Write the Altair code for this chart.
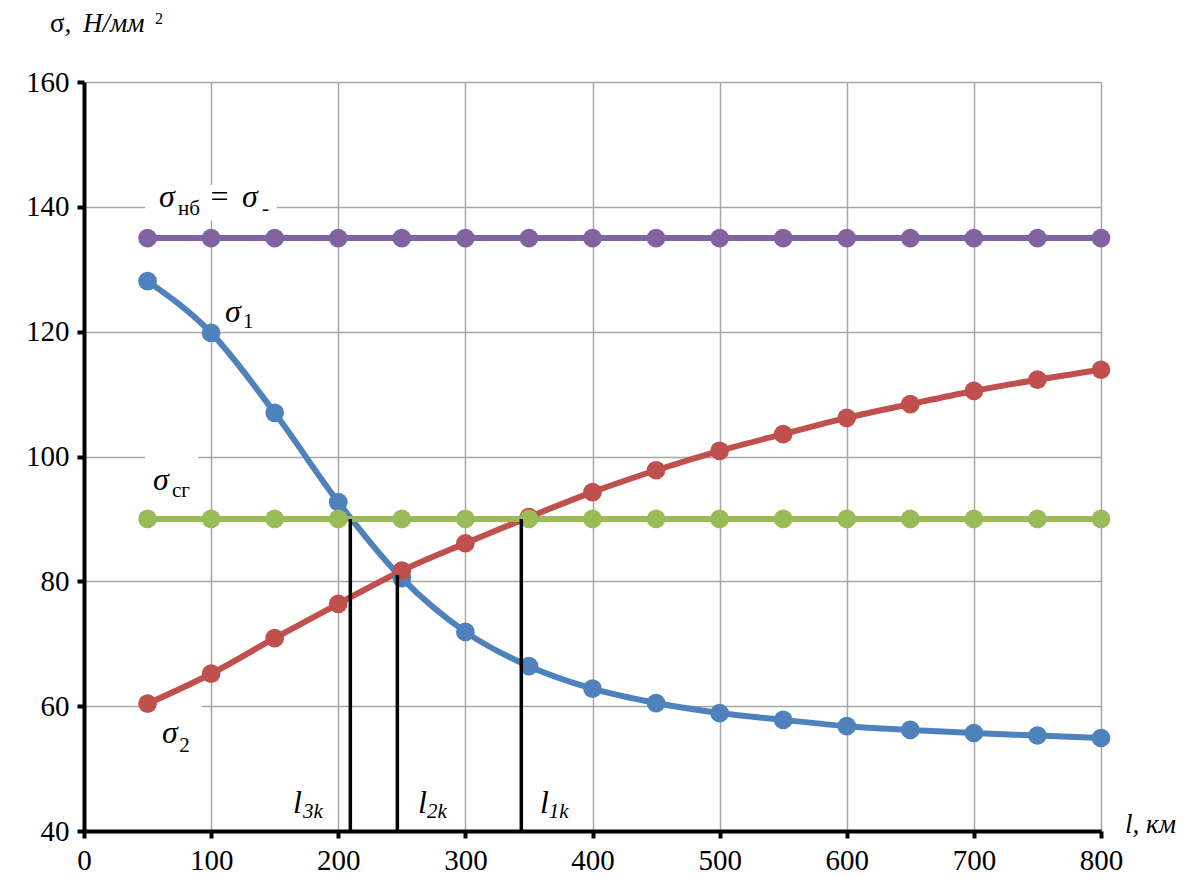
import altair as alt
import pandas as pd

# ---- data ----
L = [50, 100, 150, 200, 250, 300, 350, 400, 450, 500, 550, 600, 650, 700, 750, 800]
sigma1 = [128.1, 119.8, 107.0, 92.7, 80.5, 71.9, 66.4, 62.8, 60.5, 58.9, 57.8, 56.8, 56.2, 55.7, 55.3, 54.9]
sigma2 = [60.4, 65.2, 70.9, 76.4, 81.7, 86.1, 90.3, 94.3, 97.8, 100.9, 103.6, 106.2, 108.4, 110.5, 112.3, 113.9]
sigma_nb = [135, 135, 135, 135, 135, 135, 135, 135, 135, 135, 135, 135, 135, 135, 135, 135]
sigma_sg = [90, 90, 90, 90, 90, 90, 90, 90, 90, 90, 90, 90, 90, 90, 90, 90]

series_names = ["sigma_nb", "sigma1", "sigma2", "sigma_sg"]
series_colors = ["#8064A2", "#4F81BD", "#C0504D", "#9BBB59"]

# critical lengths (vertical markers)
crit_x = [209.5, 246.5, 344.0]
crit_top = [90.0, 81.0, 90.0]

x_ticks = [0, 100, 200, 300, 400, 500, 600, 700, 800]
y_ticks = [40, 60, 80, 100, 120, 140, 160]

# annotation pieces: text, x, y, size, italic
ann_text = ["σ", "нб", "=", "σ", "-",
            "σ", "1",
            "σ", "сг",
            "σ", "2",
            "l", "3k", "l", "2k", "l", "1k",
            "l, км",
            "σ,", "Н/мм", "2"]
ann_x = [59.0, 73.9, 99.5, 124.3, 140.0,
         110.9, 125.0,
         54.3, 69.2,
         61.4, 75.0,
         164.4, 172.3, 262.7, 269.8, 358.7, 365.5,
         818.9,
         -26.7, -0.8, 55.8]
ann_y = [140.0, 138.7, 140.0, 140.0, 138.7,
         121.5, 120.6,
         94.6, 93.5,
         54.1, 52.7,
         42.9, 42.1, 42.9, 42.1, 42.9, 42.1,
         39.7,
         168.0, 168.0, 169.3]
ann_size = [32, 21, 32, 32, 21,
            32, 21,
            32, 21,
            32, 21,
            32, 21, 32, 21, 32, 21,
            27,
            27, 27, 16]
ann_style = ["italic", "normal", "normal", "italic", "normal",
             "italic", "normal",
             "italic", "normal",
             "italic", "normal",
             "italic", "italic", "italic", "italic", "italic", "italic",
             "italic",
             "normal", "italic", "normal"]

# white boxes behind labels (hide gridlines)
box_x = [48.0, 48.0, 53.5]
box_x2 = [151.8, 89.7, 92.8]
box_y = [143.5, 101.0, 61.0]
box_y2 = [137.8, 92.5, 51.5]

# ---- tables ----
rows = []
for name, vals in zip(series_names, [sigma_nb, sigma1, sigma2, sigma_sg]):
    for l, v in zip(L, vals):
        rows.append({"l": l, "v": v, "s": name})
df = pd.DataFrame(rows)
crit = pd.DataFrame({"x": crit_x, "y0": [40] * len(crit_x), "y1": crit_top})
ann = pd.DataFrame({"t": ann_text, "x": ann_x, "y": ann_y, "size": ann_size, "style": ann_style})
boxes = pd.DataFrame({"x": box_x, "x2": box_x2, "y": box_y, "y2": box_y2})

xs = alt.Scale(domain=[0, 800], nice=False)
ys = alt.Scale(domain=[40, 160], nice=False)
cs = alt.Scale(domain=series_names, range=series_colors)

FONT = "Times New Roman"

x_axis = alt.Axis(values=x_ticks, title=None, grid=True, labelFont=FONT, labelFontSize=29,
                  labelPadding=8, labelFlush=False, labelOverlap=False)
y_axis = alt.Axis(values=y_ticks, title=None, grid=True, labelFont=FONT, labelFontSize=29,
                  labelPadding=8, labelFlush=False, labelOverlap=False)

base = alt.Chart(df)

lines = base.mark_line(strokeWidth=6, interpolate="monotone").encode(
    x=alt.X("l:Q", scale=xs, axis=x_axis),
    y=alt.Y("v:Q", scale=ys, axis=y_axis),
    color=alt.Color("s:N", scale=cs, legend=None),
    detail="s:N",
)
points = base.mark_circle(size=350, opacity=1).encode(
    x=alt.X("l:Q", scale=xs),
    y=alt.Y("v:Q", scale=ys),
    color=alt.Color("s:N", scale=cs, legend=None),
)

box_layer = alt.Chart(boxes).mark_rect(color="white").encode(
    x=alt.X("x:Q", scale=xs), x2="x2:Q",
    y=alt.Y("y:Q", scale=ys), y2="y2:Q",
)

rules = alt.Chart(crit).mark_rule(color="black", strokeWidth=3.5).encode(
    x=alt.X("x:Q", scale=xs),
    y=alt.Y("y0:Q", scale=ys),
    y2="y1:Q",
)


def text_layer(style):
    return alt.Chart(ann).transform_filter(
        alt.datum.style == style
    ).mark_text(align="left", baseline="alphabetic", font=FONT, color="black", fontStyle=style).encode(
        x=alt.X("x:Q", scale=xs),
        y=alt.Y("y:Q", scale=ys),
        text="t:N",
        size=alt.Size("size:Q", scale=None, legend=None),
    )


chart = alt.layer(box_layer, lines, points, rules, text_layer("italic"), text_layer("normal")).properties(
    width=1017,
    height=749,
    background="white",
    autosize=alt.AutoSizeParams(type="none"),
    padding={"left": 76, "top": 74, "right": 88, "bottom": 44},
).configure(
    font=FONT
).configure_view(
    stroke=None, clip=False
).configure_axis(
    domainColor="black",
    domainWidth=4,
    tickColor="black",
    tickWidth=4,
    tickSize=7,
    gridColor="#A6A6A6",
    gridWidth=1.5,
    labelFont=FONT,
    labelColor="black",
)

chart.save("out.html", embed_options={"renderer": "svg", "actions": False})
